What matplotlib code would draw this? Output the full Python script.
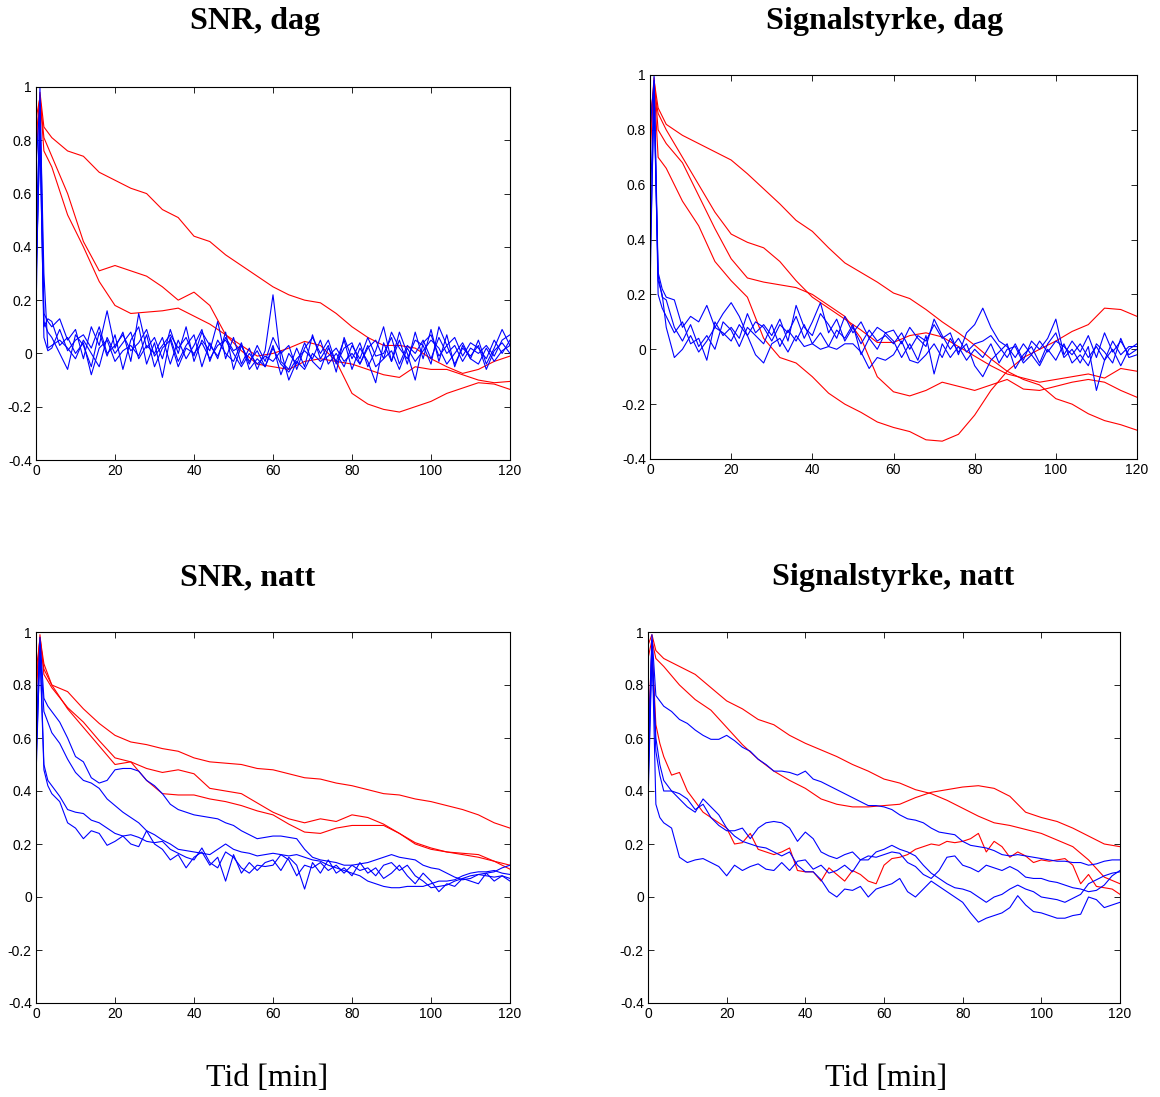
import matplotlib.pyplot as plt

# time axes: dense series use 2 min steps, smooth ones 4 min steps
t_fine = [0, 1, 2, 3] + list(range(4, 121, 2))
t_coarse = [0, 1, 2] + list(range(4, 121, 4))

# ---------- SNR, dag ----------
snr_dag_red_a = [0.72, 0.98, 0.85,
                 0.81, 0.76, 0.74, 0.68, 0.65, 0.62, 0.60, 0.54, 0.51, 0.44,
                 0.42, 0.37, 0.33, 0.29, 0.25, 0.22, 0.20, 0.19, 0.15, 0.10,
                 0.06, 0.03, 0.03, 0.02, -0.02, -0.05, -0.075, -0.06, -0.03, -0.01]
snr_dag_red_b = [0.88, 0.96, 0.81,
                 0.74, 0.60, 0.42, 0.31, 0.33, 0.31, 0.29, 0.25, 0.20, 0.23,
                 0.18, 0.07, 0.01, -0.04, -0.05, -0.06, -0.03, -0.02, -0.03, -0.04,
                 -0.06, -0.08, -0.09, -0.05, -0.06, -0.06, -0.08, -0.10, -0.11, -0.105]
snr_dag_red_c = [0.80, 0.97, 0.76,
                 0.70, 0.52, 0.40, 0.27, 0.18, 0.15, 0.155, 0.16, 0.17, 0.14,
                 0.11, 0.07, 0.03, -0.01, 0.0, 0.02, 0.045, 0.03, -0.03, -0.15,
                 -0.19, -0.21, -0.22, -0.20, -0.18, -0.15, -0.13, -0.11, -0.115, -0.135]
snr_dag_blue_a = [0.14, 1.0, 0.15, 0.12,
                  0.10, 0.13, 0.05, 0.09, -0.02, 0.10, 0.03, 0.16, 0.02, 0.08,
                  -0.03, 0.15, 0.02, 0.06, -0.02, 0.09, 0.0, 0.10, -0.03, 0.05,
                  0.01, 0.12, -0.02, 0.06, -0.04, 0.02, -0.06, 0.01, 0.22, -0.03,
                  -0.06, 0.02, -0.05, 0.07, -0.02, 0.03, -0.07, 0.06, -0.02, 0.04,
                  -0.05, 0.01, 0.10, -0.03, 0.05, -0.04, 0.08, -0.02, 0.09, -0.03,
                  0.07, -0.05, 0.03, -0.02, 0.05, -0.04, 0.02, 0.09, 0.03]
snr_dag_blue_b = [0.45, 0.90, 0.12, 0.08,
                  0.06, 0.0, -0.06, 0.07, 0.03, -0.05, 0.08, -0.01, 0.07, -0.06,
                  0.05, 0.10, -0.04, 0.04, -0.09, 0.06, -0.03, 0.03, 0.07, -0.05,
                  0.04, -0.02, 0.08, -0.06, 0.03, -0.03, 0.01, -0.05, 0.03, -0.08,
                  0.0, -0.04, 0.04, -0.03, -0.06, 0.02, -0.03, 0.05, -0.06, 0.02,
                  -0.03, -0.11, 0.04, -0.03, 0.08, 0.0, -0.10, 0.04, 0.07, -0.01,
                  0.03, -0.04, 0.02, -0.01, 0.03, -0.06, 0.01, 0.04, 0.0]
snr_dag_blue_c = [0.70, 0.95, 0.30, 0.02,
                  0.03, 0.05, 0.02, -0.02, 0.05, 0.0, -0.05, 0.06, 0.0, 0.04,
                  0.08, -0.02, 0.03, 0.0, 0.06, -0.04, 0.05, -0.02, 0.03, 0.09,
                  -0.03, 0.05, 0.0, -0.03, 0.04, -0.06, -0.02, -0.05, 0.02, -0.04,
                  -0.07, -0.02, 0.01, -0.02, 0.05, -0.04, 0.0, -0.05, 0.03, -0.02,
                  0.06, -0.01, 0.0, 0.06, -0.04, 0.03, 0.0, 0.05, -0.02, 0.06,
                  0.0, 0.03, -0.03, 0.02, 0.0, 0.03, -0.01, 0.05, 0.07]
snr_dag_blue_d = [0.30, 0.80, 0.10, 0.13,
                  0.12, 0.03, 0.06, 0.0, 0.04, -0.08, 0.02, 0.05, -0.03, 0.01,
                  0.03, -0.01, 0.07, -0.05, 0.02, 0.05, -0.05, 0.02, 0.0, 0.04,
                  -0.02, 0.03, 0.05, 0.0, -0.05, 0.0, -0.04, -0.01, -0.03, 0.01,
                  -0.10, -0.03, -0.06, 0.0, -0.03, -0.01, 0.02, -0.03, 0.0, -0.04,
                  0.03, -0.05, -0.02, 0.01, -0.06, 0.02, -0.03, 0.01, 0.05, 0.02,
                  -0.04, 0.0, 0.04, -0.02, -0.04, 0.02, -0.03, 0.01, 0.03]
snr_dag_blue_e = [0.25, 0.85, 0.06, 0.01,
                  0.02, 0.09, 0.01, 0.05, 0.07, 0.02, 0.10, 0.0, 0.03, 0.07,
                  0.01, 0.04, 0.09, -0.01, 0.03, 0.07, 0.02, 0.06, -0.01, 0.08,
                  0.03, -0.01, 0.06, 0.01, 0.03, -0.04, 0.03, -0.03, 0.06, 0.0,
                  0.03, -0.06, 0.02, 0.06, 0.0, 0.05, -0.04, 0.02, 0.04, -0.04,
                  0.02, 0.05, -0.02, 0.08, 0.02, -0.02, 0.05, 0.03, -0.04, 0.10,
                  0.03, 0.06, -0.01, 0.04, 0.02, -0.02, 0.05, 0.0, 0.05]

# ---------- Signalstyrke, dag ----------
sig_dag_red_a = [0.75, 0.98, 0.88,
                 0.82, 0.78, 0.75, 0.72, 0.69, 0.64, 0.585, 0.53, 0.47, 0.43,
                 0.37, 0.315, 0.28, 0.245, 0.205, 0.185, 0.145, 0.10, 0.06, 0.015,
                 -0.035, -0.08, -0.11, -0.13, -0.18, -0.20, -0.235, -0.26, -0.275, -0.295]
sig_dag_red_b = [0.80, 0.99, 0.80,
                 0.75, 0.68, 0.56, 0.44, 0.33, 0.26, 0.245, 0.235, 0.225, 0.20,
                 0.16, 0.12, 0.04, -0.10, -0.155, -0.17, -0.15, -0.12, -0.135, -0.15,
                 -0.13, -0.11, -0.145, -0.15, -0.135, -0.12, -0.11, -0.12, -0.15, -0.175]
sig_dag_red_c = [0.85, 0.95, 0.86,
                 0.80, 0.70, 0.60, 0.50, 0.42, 0.39, 0.37, 0.32, 0.25, 0.19,
                 0.15, 0.11, 0.07, 0.025, 0.025, 0.05, 0.06, 0.045, 0.01, -0.025,
                 -0.06, -0.09, -0.105, -0.12, -0.11, -0.10, -0.09, -0.105, -0.07, -0.08]
sig_dag_red_d = [0.70, 0.97, 0.70,
                 0.66, 0.54, 0.45, 0.32, 0.25, 0.19, 0.04, -0.03, -0.05, -0.10,
                 -0.16, -0.20, -0.23, -0.265, -0.285, -0.30, -0.33, -0.335, -0.31, -0.24,
                 -0.15, -0.08, -0.03, 0.0, 0.03, 0.065, 0.09, 0.15, 0.145, 0.12]
sig_dag_blue_a = [0.20, 1.0, 0.28, 0.22,
                  0.19, 0.18, 0.08, 0.12, 0.10, 0.16, 0.08, 0.13, 0.17, 0.12,
                  0.05, 0.10, 0.08, 0.03, 0.09, 0.06, 0.12, 0.04, 0.10, 0.17,
                  0.06, 0.11, 0.03, 0.08, 0.02, 0.07, 0.03, 0.05, 0.02, 0.06,
                  0.00, 0.05, 0.03, 0.09, 0.04, 0.06, -0.02, 0.06, 0.09, 0.15,
                  0.08, 0.03, 0.01, -0.03, 0.02, -0.02, 0.03, -0.01, 0.03, 0.01,
                  -0.02, 0.02, -0.03, 0.01, -0.04, 0.03, -0.02, 0.01, 0.01]
sig_dag_blue_b = [0.50, 0.95, 0.25, 0.20,
                  0.08, -0.03, 0.0, 0.05, -0.01, 0.03, 0.08, 0.06, 0.03, 0.09,
                  0.05, -0.02, -0.05, 0.02, 0.04, -0.01, 0.05, 0.01, 0.02, 0.00,
                  0.01, 0.00, 0.02, 0.02, -0.01, -0.07, -0.03, -0.04, -0.02, 0.03,
                  -0.04, -0.05, -0.02, 0.02, -0.03, 0.04, -0.01, 0.02, -0.06, -0.10,
                  -0.04, -0.01, 0.02, -0.07, -0.02, 0.01, -0.05, 0.02, 0.06, -0.03,
                  0.00, -0.05, 0.01, -0.15, -0.04, 0.0, -0.06, 0.0, 0.02]
sig_dag_blue_c = [0.80, 0.98, 0.20, 0.15,
                  0.12, 0.06, 0.10, 0.02, 0.04, -0.04, 0.10, 0.05, 0.08, 0.04,
                  0.13, 0.06, 0.09, 0.05, 0.11, 0.03, 0.16, 0.08, 0.05, 0.13,
                  0.09, 0.04, 0.12, 0.06, 0.10, 0.04, 0.08, 0.06, 0.07, 0.02,
                  0.08, 0.04, 0.01, 0.11, 0.05, 0.00, 0.04, -0.01, 0.02, 0.03,
                  0.05, 0.01, -0.03, 0.02, -0.04, 0.03, 0.0, 0.04, 0.11, -0.02,
                  0.03, -0.01, 0.05, -0.03, 0.06, -0.01, 0.03, -0.02, 0.0]
sig_dag_blue_d = [0.30, 0.90, 0.27, 0.19,
                  0.18, 0.08, 0.03, 0.09, 0.01, 0.05, 0.0, 0.10, 0.07, 0.01,
                  0.08, 0.05, 0.02, 0.09, 0.01, 0.07, 0.03, 0.09, 0.02, 0.06,
                  0.01, 0.07, 0.04, 0.09, -0.02, 0.04, 0.0, 0.06, 0.03, -0.03,
                  0.02, -0.04, 0.05, -0.09, 0.02, -0.03, 0.01, -0.04, 0.0, -0.03,
                  0.02, -0.05, 0.0, 0.01, -0.05, -0.02, -0.06, 0.0, -0.04, 0.02,
                  -0.05, -0.02, -0.06, 0.02, -0.01, -0.05, 0.04, -0.03, -0.02]

# ---------- SNR, natt ----------
snr_natt_red_a = [0.80, 0.98, 0.88,
                  0.80, 0.775, 0.71, 0.655, 0.61, 0.585, 0.575, 0.56, 0.55, 0.525,
                  0.51, 0.505, 0.50, 0.485, 0.48, 0.465, 0.45, 0.445, 0.43, 0.42,
                  0.405, 0.39, 0.385, 0.37, 0.36, 0.345, 0.33, 0.31, 0.28, 0.26]
snr_natt_red_b = [0.85, 0.97, 0.86,
                  0.80, 0.71, 0.64, 0.57, 0.50, 0.51, 0.485, 0.47, 0.48, 0.465,
                  0.41, 0.40, 0.39, 0.355, 0.32, 0.295, 0.28, 0.295, 0.285, 0.31,
                  0.30, 0.275, 0.24, 0.20, 0.18, 0.17, 0.16, 0.15, 0.135, 0.12]
snr_natt_red_c = [0.75, 0.99, 0.84,
                  0.79, 0.715, 0.66, 0.59, 0.525, 0.51, 0.44, 0.39, 0.385, 0.385,
                  0.37, 0.36, 0.345, 0.325, 0.31, 0.275, 0.245, 0.24, 0.26, 0.27,
                  0.27, 0.27, 0.24, 0.205, 0.185, 0.17, 0.165, 0.16, 0.135, 0.105]
snr_natt_blue_a = [0.55, 0.98, 0.75, 0.72,
                   0.70, 0.66, 0.60, 0.53, 0.51, 0.45, 0.43, 0.44, 0.48, 0.485,
                   0.485, 0.475, 0.44, 0.42, 0.39, 0.35, 0.33, 0.32, 0.31, 0.305,
                   0.30, 0.295, 0.28, 0.27, 0.25, 0.235, 0.22, 0.225, 0.23, 0.23,
                   0.225, 0.22, 0.18, 0.15, 0.14, 0.135, 0.13, 0.12, 0.12, 0.125,
                   0.13, 0.14, 0.15, 0.16, 0.15, 0.145, 0.14, 0.12, 0.11, 0.105,
                   0.09, 0.075, 0.065, 0.07, 0.085, 0.09, 0.095, 0.11, 0.12]
snr_natt_blue_b = [0.45, 0.95, 0.70, 0.66,
                   0.62, 0.58, 0.52, 0.47, 0.44, 0.43, 0.41, 0.37, 0.345, 0.32,
                   0.30, 0.28, 0.25, 0.235, 0.215, 0.20, 0.18, 0.175, 0.17, 0.165,
                   0.16, 0.18, 0.20, 0.18, 0.17, 0.165, 0.155, 0.16, 0.165, 0.16,
                   0.155, 0.16, 0.15, 0.14, 0.135, 0.12, 0.11, 0.10, 0.09, 0.08,
                   0.06, 0.05, 0.04, 0.035, 0.035, 0.04, 0.04, 0.04, 0.05, 0.06,
                   0.06, 0.065, 0.08, 0.09, 0.095, 0.095, 0.10, 0.09, 0.085]
snr_natt_blue_c = [0.60, 0.96, 0.50, 0.44,
                   0.42, 0.38, 0.33, 0.32, 0.315, 0.29, 0.28, 0.26, 0.24, 0.23,
                   0.235, 0.225, 0.21, 0.205, 0.21, 0.18, 0.165, 0.15, 0.14, 0.185,
                   0.13, 0.11, 0.17, 0.15, 0.11, 0.09, 0.12, 0.115, 0.12, 0.16,
                   0.14, 0.08, 0.12, 0.11, 0.13, 0.10, 0.12, 0.09, 0.12, 0.10,
                   0.11, 0.08, 0.12, 0.13, 0.10, 0.12, 0.08, 0.06, 0.035, 0.04,
                   0.045, 0.06, 0.07, 0.08, 0.085, 0.08, 0.075, 0.08, 0.06]
snr_natt_blue_d = [0.50, 0.93, 0.48, 0.42,
                   0.39, 0.36, 0.28, 0.26, 0.22, 0.25, 0.24, 0.195, 0.21, 0.23,
                   0.20, 0.19, 0.25, 0.20, 0.18, 0.14, 0.16, 0.11, 0.15, 0.17,
                   0.12, 0.15, 0.06, 0.16, 0.09, 0.13, 0.10, 0.13, 0.14, 0.10,
                   0.15, 0.12, 0.03, 0.13, 0.09, 0.14, 0.09, 0.11, 0.08, 0.13,
                   0.09, 0.11, 0.07, 0.09, 0.12, 0.08, 0.05, 0.09, 0.06, 0.02,
                   0.05, 0.04, 0.07, 0.06, 0.05, 0.09, 0.06, 0.08, 0.07]

# ---------- Signalstyrke, natt ----------
sig_natt_red_a = [0.95, 0.99, 0.93,
                  0.90, 0.87, 0.84, 0.79, 0.74, 0.71, 0.67, 0.65, 0.61, 0.58,
                  0.555, 0.53, 0.50, 0.475, 0.445, 0.43, 0.405, 0.39, 0.365, 0.335,
                  0.305, 0.28, 0.27, 0.255, 0.24, 0.215, 0.19, 0.14, 0.075, 0.05]
sig_natt_red_b = [0.90, 0.97, 0.90,
                  0.87, 0.80, 0.745, 0.705, 0.64, 0.575, 0.52, 0.475, 0.44, 0.41,
                  0.37, 0.35, 0.34, 0.34, 0.345, 0.35, 0.375, 0.395, 0.405, 0.415,
                  0.42, 0.41, 0.38, 0.32, 0.30, 0.285, 0.26, 0.23, 0.20, 0.19]
sig_natt_red_c = [0.60, 0.95, 0.65, 0.58,
                  0.53, 0.46, 0.47, 0.40, 0.36, 0.32, 0.30, 0.28, 0.26, 0.20,
                  0.205, 0.24, 0.18, 0.17, 0.16, 0.17, 0.185, 0.10, 0.095, 0.095,
                  0.06, 0.11, 0.085, 0.06, 0.10, 0.085, 0.06, 0.05, 0.12, 0.145,
                  0.15, 0.16, 0.18, 0.19, 0.20, 0.195, 0.21, 0.205, 0.21, 0.22,
                  0.24, 0.17, 0.21, 0.19, 0.15, 0.17, 0.155, 0.13, 0.14, 0.135,
                  0.14, 0.145, 0.12, 0.05, 0.085, 0.04, 0.035, 0.03, 0.01]
sig_natt_blue_a = [0.50, 0.99, 0.76, 0.74,
                   0.72, 0.70, 0.67, 0.655, 0.63, 0.61, 0.595, 0.595, 0.61, 0.59,
                   0.565, 0.55, 0.52, 0.50, 0.475, 0.475, 0.47, 0.46, 0.475, 0.445,
                   0.435, 0.42, 0.405, 0.39, 0.375, 0.36, 0.345, 0.345, 0.34, 0.33,
                   0.31, 0.295, 0.29, 0.28, 0.26, 0.245, 0.24, 0.235, 0.21, 0.195,
                   0.19, 0.185, 0.175, 0.16, 0.155, 0.16, 0.155, 0.15, 0.145, 0.14,
                   0.135, 0.135, 0.13, 0.13, 0.12, 0.125, 0.135, 0.14, 0.14]
sig_natt_blue_b = [0.40, 0.95, 0.60, 0.50,
                   0.44, 0.40, 0.39, 0.37, 0.33, 0.35, 0.30, 0.27, 0.25, 0.25,
                   0.26, 0.22, 0.26, 0.28, 0.285, 0.28, 0.26, 0.21, 0.245, 0.22,
                   0.17, 0.155, 0.145, 0.16, 0.17, 0.14, 0.14, 0.17, 0.18, 0.195,
                   0.18, 0.17, 0.155, 0.12, 0.09, 0.07, 0.05, 0.035, 0.03, 0.02,
                   0.0, -0.02, 0.0, 0.01, 0.03, 0.045, 0.03, 0.02, 0.0, -0.005,
                   -0.01, -0.02, -0.005, 0.01, 0.05, 0.065, 0.08, 0.09, 0.095]
sig_natt_blue_c = [0.35, 0.92, 0.55, 0.46,
                   0.40, 0.40, 0.37, 0.34, 0.32, 0.37, 0.34, 0.31, 0.26, 0.23,
                   0.21, 0.20, 0.19, 0.185, 0.17, 0.155, 0.17, 0.12, 0.095, 0.095,
                   0.065, 0.02, 0.0, 0.03, 0.025, 0.04, 0.0, 0.03, 0.04, 0.05,
                   0.07, 0.02, 0.0, 0.03, 0.06, 0.04, 0.02, 0.0, -0.02, -0.06,
                   -0.095, -0.08, -0.07, -0.06, -0.04, 0.005, -0.03, -0.055, -0.06, -0.07,
                   -0.08, -0.08, -0.07, -0.065, 0.0, -0.01, -0.04, -0.03, -0.02]
sig_natt_blue_d = [0.45, 0.97, 0.35, 0.30,
                   0.28, 0.26, 0.15, 0.13, 0.14, 0.145, 0.13, 0.115, 0.08, 0.12,
                   0.10, 0.115, 0.125, 0.105, 0.10, 0.13, 0.10, 0.135, 0.14, 0.105,
                   0.12, 0.09, 0.10, 0.12, 0.095, 0.14, 0.155, 0.15, 0.16, 0.17,
                   0.165, 0.13, 0.115, 0.085, 0.07, 0.10, 0.15, 0.155, 0.12, 0.11,
                   0.095, 0.12, 0.11, 0.10, 0.115, 0.10, 0.075, 0.07, 0.07, 0.06,
                   0.055, 0.045, 0.035, 0.03, 0.02, 0.025, 0.045, 0.08, 0.10]

yticks = [-0.4, -0.2, 0, 0.2, 0.4, 0.6, 0.8, 1]
ytick_labels = ['-0.4', '-0.2', '0', '0.2', '0.4', '0.6', '0.8', '1']
xticks = [0, 20, 40, 60, 80, 100, 120]


def pick_t(y):
    if len(y) == len(t_fine):
        return t_fine
    if len(y) == len(t_coarse):
        return t_coarse
    raise ValueError("bad series length %d" % len(y))


def draw(ax, reds, blues):
    for y in reds:
        ax.plot(pick_t(y), y, color=(1, 0, 0), lw=0.8)
    for y in blues:
        ax.plot(pick_t(y), y, color=(0, 0, 1), lw=0.8)
    ax.set_xlim(0, 120)
    ax.set_ylim(-0.4, 1)
    ax.set_xticks(xticks)
    ax.set_xticklabels([str(v) for v in xticks])
    ax.set_yticks(yticks)
    ax.set_yticklabels(ytick_labels)
    ax.tick_params(direction='in', top=True, right=True, length=4, width=0.6,
                   labelsize=10, pad=3)
    for lab in ax.get_xticklabels() + ax.get_yticklabels():
        lab.set_fontfamily('Liberation Sans')
    for s in ax.spines.values():
        s.set_linewidth(0.8)


W, H = 1160, 1097
fig = plt.figure(figsize=(W / 100, H / 100), dpi=100)


def axes_px(x0, y0, x1, y1):
    return fig.add_axes([x0 / W, 1 - y1 / H, (x1 - x0) / W, (y1 - y0) / H])


ax1 = axes_px(36, 87, 510, 460)
ax2 = axes_px(650, 75, 1137, 459)
ax3 = axes_px(36, 632, 510, 1003)
ax4 = axes_px(648, 632, 1120, 1003)

draw(ax1, [snr_dag_red_a, snr_dag_red_b, snr_dag_red_c],
     [snr_dag_blue_a, snr_dag_blue_b, snr_dag_blue_c, snr_dag_blue_d, snr_dag_blue_e])
draw(ax2, [sig_dag_red_a, sig_dag_red_b, sig_dag_red_c, sig_dag_red_d],
     [sig_dag_blue_a, sig_dag_blue_b, sig_dag_blue_c, sig_dag_blue_d])
draw(ax3, [snr_natt_red_a, snr_natt_red_b, snr_natt_red_c],
     [snr_natt_blue_a, snr_natt_blue_b, snr_natt_blue_c, snr_natt_blue_d])
draw(ax4, [sig_natt_red_a, sig_natt_red_b, sig_natt_red_c],
     [sig_natt_blue_a, sig_natt_blue_b, sig_natt_blue_c, sig_natt_blue_d])

serif = 'Liberation Serif'
fig.text(255 / W, 1 - 21 / H, 'SNR, dag', ha='center', va='center',
         fontsize=23, fontweight='bold', family=serif)
fig.text(885 / W, 1 - 21 / H, 'Signalstyrke, dag', ha='center', va='center',
         fontsize=23, fontweight='bold', family=serif)
fig.text(248 / W, 1 - 578 / H, 'SNR, natt', ha='center', va='center',
         fontsize=23, fontweight='bold', family=serif)
fig.text(893 / W, 1 - 578 / H, 'Signalstyrke, natt', ha='center', va='center',
         fontsize=23, fontweight='bold', family=serif)
fig.text(267 / W, 1 - 1078 / H, 'Tid [min]', ha='center', va='center',
         fontsize=23, family=serif)
fig.text(886 / W, 1 - 1078 / H, 'Tid [min]', ha='center', va='center',
         fontsize=23, family=serif)

fig.savefig('out.png', dpi=100)
